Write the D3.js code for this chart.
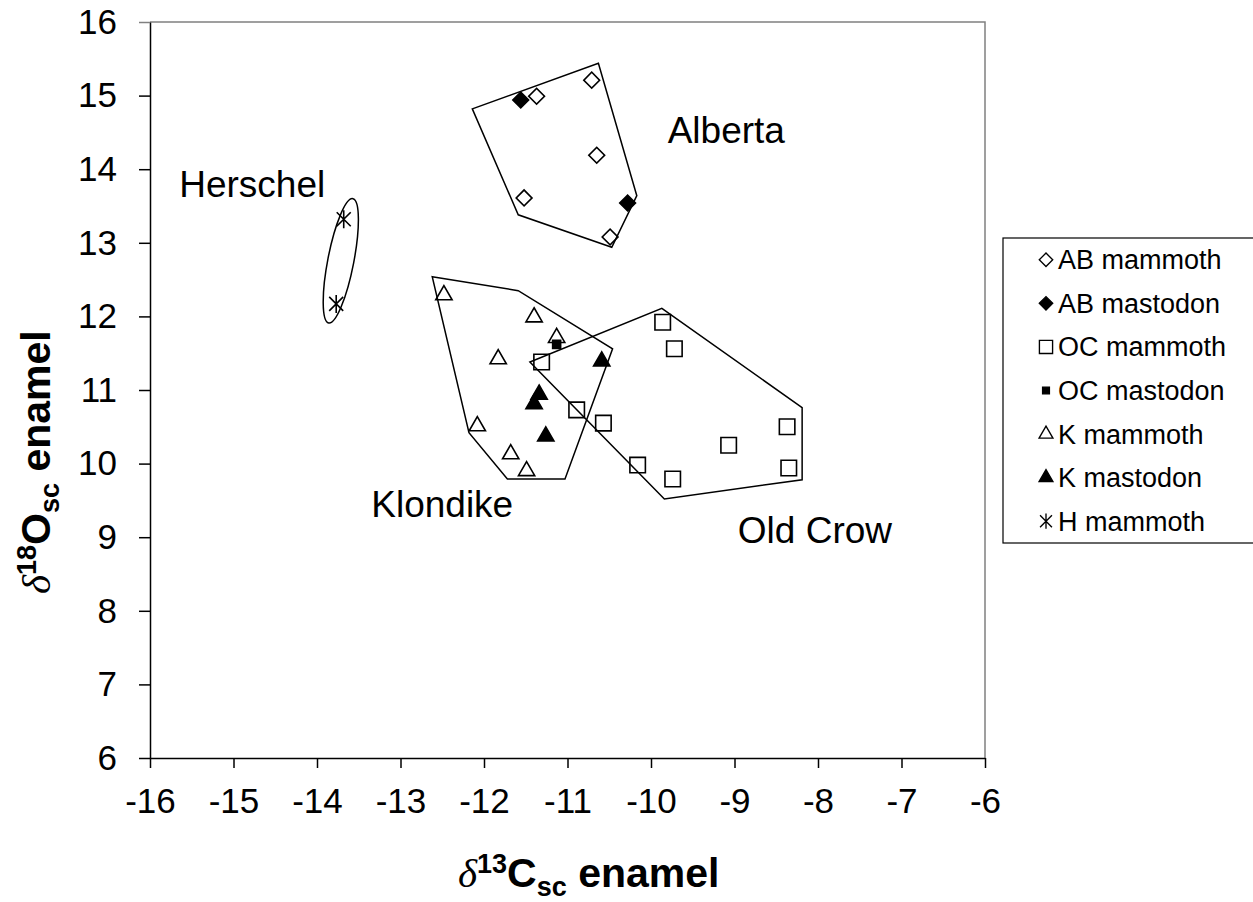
<!DOCTYPE html>
<html>
<head>
<meta charset="utf-8">
<script src="https://cdn.jsdelivr.net/npm/d3@7"></script>
<style>
  body { margin: 0; background: #fff; }
  svg { display: block; font-family: "Liberation Sans", Arial, sans-serif; }
</style>
</head>
<body>
<div id="chart"></div>
<script>
// Series (d13C, d18O)
const abMammoth = [
    { x: -11.37, y: 14.99 },
    { x: -10.71, y: 15.21 },
    { x: -10.65, y: 14.19 },
    { x: -11.52, y: 13.61 },
    { x: -10.49, y: 13.08 }
];
const abMastodon = [
    { x: -11.56, y: 14.94 },
    { x: -10.28, y: 13.54 }
];
const ocMammoth = [
    { x: -11.31, y: 11.38 },
    { x: -10.89, y: 10.73 },
    { x: -10.57, y: 10.55 },
    { x: -10.16, y: 9.98 },
    { x: -9.86, y: 11.92 },
    { x: -9.72, y: 11.56 },
    { x: -9.74, y: 9.79 },
    { x: -9.07, y: 10.25 },
    { x: -8.37, y: 10.50 },
    { x: -8.35, y: 9.94 }
];
const ocMastodon = [
    { x: -11.13, y: 11.62 }
];
const kMammoth = [
    { x: -12.48, y: 12.29 },
    { x: -11.40, y: 11.99 },
    { x: -11.13, y: 11.71 },
    { x: -11.83, y: 11.42 },
    { x: -12.08, y: 10.51 },
    { x: -11.68, y: 10.13 },
    { x: -11.49, y: 9.90 }
];
const kMastodon = [
    { x: -10.59, y: 11.39 },
    { x: -11.34, y: 10.94 },
    { x: -11.40, y: 10.81 },
    { x: -11.26, y: 10.37 }
];
const hMammoth = [
    { x: -13.68, y: 13.32 },
    { x: -13.77, y: 12.17 }
];

// Hand-drawn group outlines
const albertaHull = [
    { x: -12.14, y: 14.82 },
    { x: -10.63, y: 15.44 },
    { x: -10.17, y: 13.64 },
    { x: -10.47, y: 12.94 },
    { x: -11.59, y: 13.38 }
];
const klondikeHull = [
    { x: -12.62, y: 12.54 },
    { x: -11.59, y: 12.35 },
    { x: -10.46, y: 11.56 },
    { x: -11.03, y: 9.79 },
    { x: -11.72, y: 9.79 },
    { x: -12.18, y: 10.42 }
];
const oldCrowHull = [
    { x: -11.45, y: 11.38 },
    { x: -9.87, y: 12.11 },
    { x: -8.19, y: 10.76 },
    { x: -8.19, y: 9.78 },
    { x: -9.84, y: 9.52 }
];
// Herschel ellipse: ends of its long axis
const herschelAxis = [
    { x: -13.57, y: 13.60 },
    { x: -13.86, y: 11.91 }
];

const groupLabels = [
    { text: 'Alberta', x: -9.80, y: 14.36 },
    { text: 'Herschel', x: -15.65, y: 13.62 },
    { text: 'Klondike', x: -13.35, y: 9.27 },
    { text: 'Old Crow', x: -8.96, y: 8.92 }
];

const xTicks = [-16, -15, -14, -13, -12, -11, -10, -9, -8, -7, -6];
const yTicks = [6, 7, 8, 9, 10, 11, 12, 13, 14, 15, 16];

const legendNames = ['AB mammoth', 'AB mastodon', 'OC mammoth', 'OC mastodon',
    'K mammoth', 'K mastodon', 'H mammoth'];

// Set up dimensions
const width = 1253;
const height = 902;
const margin = { top: 22, right: 268, bottom: 144, left: 150 };

const svg = d3.select('#chart')
    .append('svg')
    .attr('width', width)
    .attr('height', height);

const xScale = d3.scaleLinear()
    .domain([-16, -6])
    .range([margin.left, width - margin.right]);

const yScale = d3.scaleLinear()
    .domain([6, 16])
    .range([height - margin.bottom, margin.top]);

// Marker shapes
const diamond = d3.symbol().type(d3.symbolSquare).size(125);
const square = d3.symbol().type(d3.symbolSquare).size(240);
const smallSquare = d3.symbol().type(d3.symbolSquare).size(64);
const triangle = d3.symbol().type(d3.symbolTriangle).size(115);
const starPath = 'M0,-9V9M-7,-7L7,7M-7,7L7,-7';

const series = [
    { data: abMammoth, d: diamond(), rot: 45, fill: 'none' },
    { data: abMastodon, d: diamond(), rot: 45, fill: '#000' },
    { data: ocMammoth, d: square(), rot: 0, fill: 'none' },
    { data: ocMastodon, d: smallSquare(), rot: 0, fill: '#000' },
    { data: kMammoth, d: triangle(), rot: 0, fill: 'none' },
    { data: kMastodon, d: triangle(), rot: 0, fill: '#000' },
    { data: hMammoth, d: starPath, rot: 0, fill: 'none' }
];

// Plot frame (top and right in grey)
svg.append('path')
    .attr('d', `M${xScale(-16)},${yScale(16)}H${xScale(-6)}V${yScale(6)}`)
    .attr('fill', 'none')
    .attr('stroke', '#808080')
    .attr('stroke-width', 1.5);

// Axes
const xAxis = svg.append('g')
    .attr('transform', `translate(0,${yScale(6)})`)
    .call(d3.axisBottom(xScale).tickValues(xTicks).tickFormat(d => String(d))
        .tickSize(10).tickSizeOuter(0).tickPadding(20));

const yAxis = svg.append('g')
    .attr('transform', `translate(${xScale(-16)},0)`)
    .call(d3.axisLeft(yScale).tickValues(yTicks).tickFormat(d => String(d))
        .tickSize(11).tickSizeOuter(0).tickPadding(22));

[xAxis, yAxis].forEach(g => {
    g.selectAll('path, line').attr('stroke', '#000').attr('stroke-width', 1.5);
    g.selectAll('text')
        .style('font-size', '35px')
        .style('font-family', '"Liberation Sans", Arial, sans-serif')
        .attr('fill', '#000');
});
yAxis.selectAll('.tick').filter(d => d === 16).select('line').attr('stroke', '#808080');

// Points
series.forEach(s => {
    svg.append('g')
        .selectAll('path')
        .data(s.data)
        .join('path')
        .attr('d', s.d)
        .attr('transform', d => `translate(${xScale(d.x)},${yScale(d.y)}) rotate(${s.rot})`)
        .attr('fill', s.fill)
        .attr('stroke', '#000')
        .attr('stroke-width', 1.6);
});

// Group outlines (drawn over the points)
const line = d3.line()
    .x(d => xScale(d.x))
    .y(d => yScale(d.y))
    .curve(d3.curveLinearClosed);

svg.append('g')
    .selectAll('path')
    .data([albertaHull, klondikeHull, oldCrowHull])
    .join('path')
    .attr('d', d => line(d))
    .attr('fill', 'none')
    .attr('stroke', '#000')
    .attr('stroke-width', 1.5);

// Herschel ellipse
const e0 = [xScale(herschelAxis[0].x), yScale(herschelAxis[0].y)];
const e1 = [xScale(herschelAxis[1].x), yScale(herschelAxis[1].y)];
const ecx = (e0[0] + e1[0]) / 2;
const ecy = (e0[1] + e1[1]) / 2;
const erx = Math.hypot(e1[0] - e0[0], e1[1] - e0[1]) / 2;
const eAngle = Math.atan2(e1[1] - e0[1], e1[0] - e0[0]) * 180 / Math.PI;
svg.append('ellipse')
    .attr('cx', 0)
    .attr('cy', 0)
    .attr('rx', erx)
    .attr('ry', 13)
    .attr('transform', `translate(${ecx},${ecy}) rotate(${eAngle})`)
    .attr('fill', 'none')
    .attr('stroke', '#000')
    .attr('stroke-width', 1.5);

// Group names
svg.append('g')
    .selectAll('text')
    .data(groupLabels)
    .join('text')
    .attr('x', d => xScale(d.x))
    .attr('y', d => yScale(d.y))
    .text(d => d.text)
    .style('font-size', '37px')
    .attr('fill', '#000');

// Legend
const legend = svg.append('g');
legend.append('rect')
    .attr('x', 1003)
    .attr('y', 238)
    .attr('width', 270)
    .attr('height', 305)
    .attr('fill', '#fff')
    .attr('stroke', '#000')
    .attr('stroke-width', 1.2);

const legendRow = d3.scaleBand()
    .domain(legendNames)
    .range([238, 543]);

legendNames.forEach((name, i) => {
    const s = series[i];
    const cy = legendRow(name) + legendRow.bandwidth() / 2;
    legend.append('path')
        .attr('d', s.d)
        .attr('transform', `translate(1046,${cy}) rotate(${s.rot}) scale(0.85)`)
        .attr('fill', s.fill)
        .attr('stroke', '#000')
        .attr('stroke-width', 1.6);
    legend.append('text')
        .attr('x', 1058)
        .attr('y', cy)
        .attr('dy', '0.35em')
        .text(name)
        .style('font-size', '27px')
        .attr('fill', '#000');
});

// Axis titles
const xTitle = svg.append('text')
    .attr('x', 458)
    .attr('y', 887)
    .style('font-size', '41px')
    .style('font-weight', 'bold')
    .attr('fill', '#000');
xTitle.append('tspan').text('δ')
    .style('font-family', '"Liberation Serif", "Times New Roman", serif')
    .style('font-style', 'italic').style('font-weight', 'normal');
xTitle.append('tspan').text('13').attr('dy', -14).style('font-size', '27px');
xTitle.append('tspan').text('C').attr('dy', 14);
xTitle.append('tspan').text('sc').attr('dy', 9).style('font-size', '27px');
xTitle.append('tspan').text(' enamel').attr('dy', -9);

const yTitle = svg.append('text')
    .attr('transform', 'translate(50,594) rotate(-90)')
    .attr('x', 0)
    .attr('y', 0)
    .style('font-size', '41px')
    .style('font-weight', 'bold')
    .attr('fill', '#000');
yTitle.append('tspan').text('δ')
    .style('font-family', '"Liberation Serif", "Times New Roman", serif')
    .style('font-style', 'italic').style('font-weight', 'normal');
yTitle.append('tspan').text('18').attr('dy', -14).style('font-size', '27px');
yTitle.append('tspan').text('O').attr('dy', 14);
yTitle.append('tspan').text('sc').attr('dy', 9).style('font-size', '27px');
yTitle.append('tspan').text(' enamel').attr('dy', -9);
</script>
</body>
</html>
